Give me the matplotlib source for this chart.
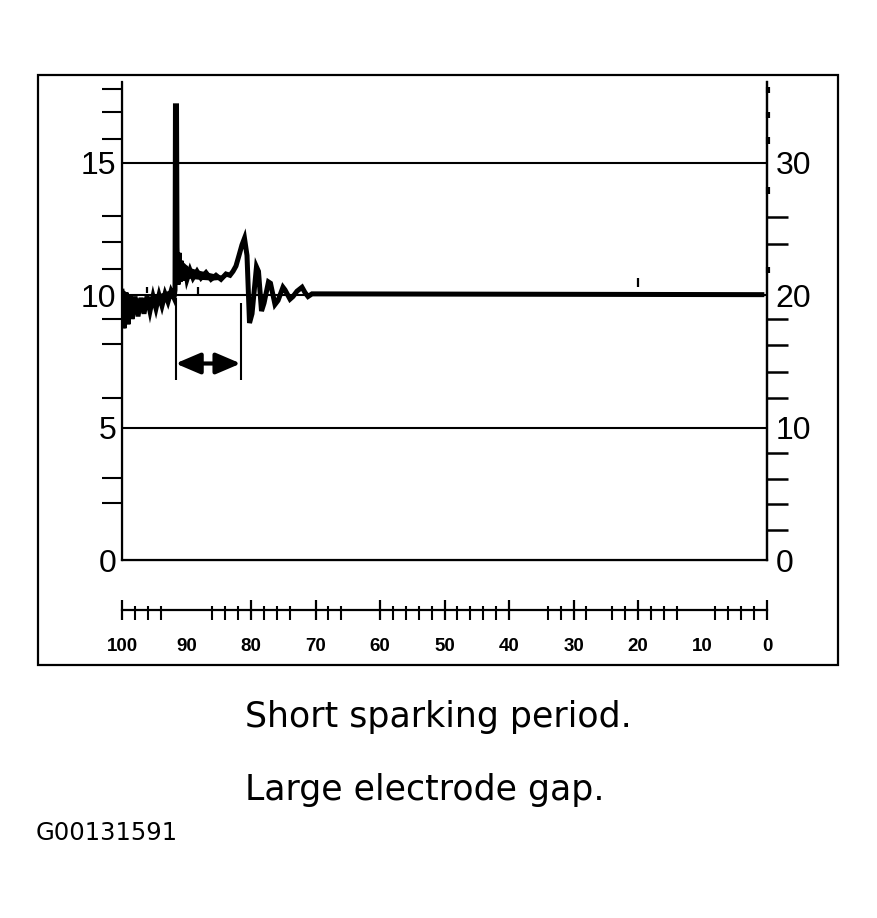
import matplotlib
matplotlib.use("Agg")
import matplotlib.pyplot as plt
from matplotlib.patches import Rectangle

# trace (x runs 100 -> 0, left scale 0..18)
trace_x = [100.0, 99.69, 99.38, 99.07, 98.76, 98.45, 97.98, 97.52, 97.05, 96.59,
           96.12, 95.66, 95.19, 94.73, 94.26, 93.80, 93.33, 92.87, 92.40, 91.94,
           91.78, 91.71, 91.55, 91.47, 91.32, 91.16, 91.01, 90.85, 90.54, 90.23,
           89.92, 89.46, 88.99, 88.37, 87.75, 86.98, 86.20, 85.43, 84.65, 83.88,
           83.26, 82.79, 82.33, 81.86, 81.40, 81.01, 80.62, 80.23, 79.84, 79.15,
           78.84, 78.37, 77.98, 77.29, 76.98, 76.28, 75.81, 75.04, 74.73, 73.95,
           73.49, 72.87, 72.09, 71.63, 71.16, 70.54, 0.8]
trace_y = [10.15, 8.75, 10.1, 8.9, 10.0, 9.1, 9.95, 9.2, 9.9, 9.3,
           9.95, 9.4, 9.95, 9.5, 10.0, 9.6, 10.05, 9.75, 10.15, 9.9,
           10.2, 17.15, 17.15, 11.8, 10.4, 11.6, 10.5, 11.3, 10.55, 11.1,
           10.6, 10.95, 10.65, 10.9, 10.65, 10.85, 10.6, 10.75, 10.6, 10.8,
           10.75, 10.9, 11.1, 11.5, 11.9, 12.15, 11.5, 8.95, 9.3, 11.07,
           10.9, 9.4, 9.7, 10.5, 10.45, 9.65, 9.8, 10.3, 10.2, 9.85,
           9.95, 10.15, 10.3, 10.1, 9.95, 10.05, 10.02]

# envelopes of the noisy parts of the trace
wedge_x = [100.0, 99.69, 98.45, 97.36, 94.88, 91.94]
wedge_lo = [9.9, 8.75, 9.25, 9.36, 9.7, 9.92]
wedge_hi = [10.2, 10.19, 9.95, 9.89, 10.0, 10.26]
band_x = [91.47, 90.70, 89.61, 88.06, 86.05, 84.50, 83.57]
band_lo = [10.4, 10.57, 10.64, 10.6, 10.57, 10.6, 10.75]
band_hi = [11.8, 11.3, 11.05, 10.94, 10.83, 10.75, 10.9]

grid_levels = [5, 10, 15]
left_labels = [0, 5, 10, 15]
left_ticks = [17.8, 16.9, 15.9, 13.0, 12.0, 11.0, 9.1, 8.15, 6.1, 3.1, 2.15]
right_labels = [0, 10, 20, 30]
right_long = [25.9, 23.9, 18.2, 16.2, 14.2, 12.2, 8.1, 6.1, 4.2, 2.3]
right_short = [35.5, 33.6, 31.7, 27.9, 21.9]

scale_labels = [100, 90, 80, 70, 60, 50, 40, 30, 20, 10, 0]
scale_long = [100, 80, 70, 60, 50, 40, 30, 20, 0]
scale_short = [98, 96, 94, 86, 84, 82, 78, 76, 74, 68, 66, 58, 56, 54, 52,
               48, 46, 44, 42, 34, 32, 28, 24, 22, 18, 16, 14, 8, 6, 4, 2]

marks_x = [96.1, 88.2, 20.0]
marks_lo = [10.1, 10.06, 10.31]
marks_hi = [10.31, 10.31, 10.63]

period_start, period_end = 91.7, 81.6
period_top = [9.9, 9.69]
period_bottom = 6.79
arrow_level = 7.42

W, H = 877, 918
fig = plt.figure(figsize=(W / 100, H / 100), dpi=100)

x0, x1 = 122 / W, 767 / W
ax = fig.add_axes([x0, 1 - 560 / H, x1 - x0, (560 - 82) / H])
ax.set_xlim(100, 0)
ax.set_ylim(0, 18.05)
ax.spines['top'].set_visible(False)
for s in ['left', 'right', 'bottom']:
    ax.spines[s].set_linewidth(1.6)
ax.set_xticks([])

for g in grid_levels:
    ax.axhline(g, color='black', lw=1.5)

ax.fill_between(wedge_x, wedge_lo, wedge_hi, color='black', lw=0)
ax.fill_between(band_x, band_lo, band_hi, color='black', lw=0)
ax.plot(trace_x, trace_y, color='black', lw=3.6, solid_joinstyle='miter')
ax.vlines(marks_x, marks_lo, marks_hi, color='black', lw=1.6)

ax.vlines([period_start, period_end], [period_bottom] * 2, period_top,
          color='black', lw=1.5)
ax.annotate('', xy=(period_end, arrow_level), xytext=(period_start, arrow_level),
            arrowprops=dict(arrowstyle='<|-|>,head_length=0.75,head_width=0.32',
                            lw=3, color='black', mutation_scale=20,
                            shrinkA=0, shrinkB=0))

tick_font = dict(family='Liberation Sans', size=23)
ax.set_yticks(left_labels)
ax.set_yticklabels([str(v) for v in left_labels], fontdict=tick_font)
ax.set_yticks(left_ticks, minor=True)
ax.tick_params(axis='y', which='major', length=0, pad=4)
ax.tick_params(axis='y', which='minor', length=14.5, width=1.5, direction='out')

ax_r = ax.twinx()
ax_r.set_ylim(0, 36.1)
ax_r.spines['top'].set_visible(False)
ax_r.spines['right'].set_linewidth(1.6)
ax_r.set_yticks(right_labels)
ax_r.set_yticklabels([str(v) for v in right_labels], fontdict=tick_font)
ax_r.set_yticks(right_long, minor=True)
ax_r.tick_params(axis='y', which='major', length=0, pad=6)
ax_r.tick_params(axis='y', which='minor', length=15, width=1.8, direction='out')

ax_s = ax.twinx()
ax_s.set_ylim(0, 36.1)
ax_s.set_xlim(100, 0)
ax_s.axis('off')
ax_s.vlines([-0.2] * len(right_short), [v - 0.25 for v in right_short],
            [v + 0.25 for v in right_short], color='black', lw=3, clip_on=False)

# bottom scale
ax_b = fig.add_axes([x0, 1 - 620 / H, x1 - x0, 20 / H])
ax_b.set_xlim(100, 0)
ax_b.set_ylim(-1, 1)
for s in ['top', 'left', 'right']:
    ax_b.spines[s].set_visible(False)
ax_b.spines['bottom'].set_position(('data', 0))
ax_b.spines['bottom'].set_linewidth(1.6)
ax_b.patch.set_visible(False)
ax_b.set_yticks([])
ax_b.xaxis.remove_overlapping_locs = False
ax_b.set_xticks(scale_labels)
ax_b.set_xticklabels([str(v) for v in scale_labels],
                     fontdict=dict(family='Liberation Sans', size=13.5,
                                   weight='bold'))
ax_b.set_xticks(scale_long, minor=True)
ax_b.tick_params(axis='x', which='major', length=0, pad=20)
ax_b.tick_params(axis='x', which='minor', length=15, width=1.6, direction='inout')
ax_b.vlines(scale_short, -1.0, 0.4, color='black', lw=1.5)

fig.add_artist(Rectangle((38 / W, 1 - 665 / H), 800 / W, 590 / H,
                         transform=fig.transFigure, fill=False, lw=1.6,
                         edgecolor='black'))

fig.text(245 / W, 1 - 727 / H, 'Short sparking period.', fontsize=25,
         family='DejaVu Sans', va='baseline', ha='left')
fig.text(245 / W, 1 - 800 / H, 'Large electrode gap.', fontsize=25,
         family='DejaVu Sans', va='baseline', ha='left')
fig.text(36 / W, 1 - 840 / H, 'G00131591', fontsize=17.5,
         family='DejaVu Sans', va='baseline', ha='left')

fig.savefig('out.png', dpi=100, facecolor='white')
